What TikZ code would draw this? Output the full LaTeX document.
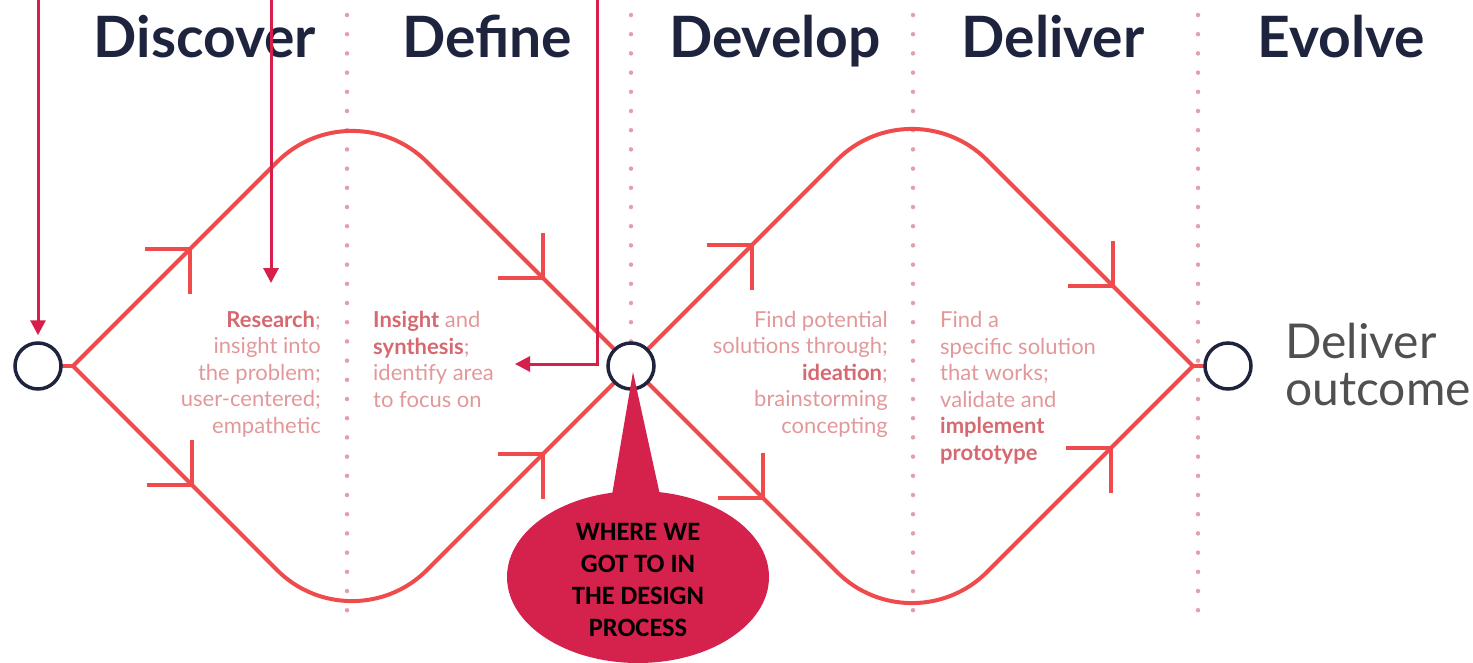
\documentclass[tikz,border=0pt]{standalone}
\usepackage{fontspec}
\setmainfont{Lato}
\newfontfamily\calloutfont{Carlito}
\usetikzlibrary{arrows.meta,calc,shapes.geometric}

\definecolor{routered}{RGB}{239,74,76}
\definecolor{navy}{RGB}{30,36,62}
\definecolor{pointerred}{RGB}{214,32,75}
\definecolor{dotpink}{RGB}{226,160,168}
\definecolor{bodytxt}{RGB}{226,152,154}
\definecolor{boldtxt}{RGB}{214,104,112}
\definecolor{outcometxt}{RGB}{80,80,80}
\definecolor{bubblered}{RGB}{212,34,76}

\newcommand\keyword[1]{\textbf{\color{boldtxt}#1}}
\newcommand\drawchevron[3]{\draw[chevron] ($(#1)+(#2)$) -- (#1) -- ($(#1)+(#3)$);}

\begin{document}
\begin{tikzpicture}[x=1pt,y=-1pt,
  phase/.style={font=\fontsize{57}{62}\selectfont\bfseries, text=navy, inner sep=0, anchor=base},
  dotline/.style={draw=dotpink, line width=4.5pt, line cap=round, dash pattern=on 0pt off 19.2pt},
  stage/.style={circle, draw=navy, line width=3.5pt, fill=white, minimum size=46pt, inner sep=0},
  route/.style={draw=routered, line width=4pt},
  chevron/.style={draw=routered, line width=4pt},
  note/.style={font=\fontsize{22}{26.5}\selectfont, text=bodytxt, inner sep=0},
  pointer/.style={draw=pointerred, line width=3pt, -{Triangle[width=15pt,length=15pt]}},
]
\useasboundingbox (0,0) rectangle (1473,662);

% phase separators
\foreach \xx/\nm in {347/sepA,631/sepB,913/sepC,1198/sepD}{
  \coordinate (\nm top) at (\xx,15);
  \coordinate (\nm bot) at (\xx,612);
  \draw[dotline] (\nm top) -- (\nm bot);
}

% phase titles
\node[phase] (discover) at (205,57) {Discover};
\node[phase] (define)   at (487,57) {Define};
\node[phase] (develop)  at (775,57) {Develop};
\node[phase] (deliver)  at (1053,57) {Deliver};
\node[phase] (evolve)   at (1341,57) {Evolve};

% stage circles
\coordinate (c1pos) at (38,366);
\coordinate (c2pos) at (631,366);
\coordinate (c3pos) at (1228,366);

% diamond corners
\coordinate (L1) at (73,366);
\coordinate (T1) at (352,87);
\coordinate (B1) at (352,645);
\coordinate (T2) at (912,85);
\coordinate (B2) at (912,647);
\coordinate (R2) at (1193,366);

% double diamond routes
\draw[route] (c1pos) -- (L1);
\draw[route, rounded corners=106pt] (L1) -- (T1) -- (c2pos);
\draw[route, rounded corners=106pt] (L1) -- (B1) -- (c2pos);
\draw[route, rounded corners=106pt] (c2pos) -- (T2) -- (R2);
\draw[route, rounded corners=106pt] (c2pos) -- (B2) -- (R2);
\draw[route] (R2) -- (c3pos);

% direction chevrons
\coordinate (k1) at (190,249);
\coordinate (k2) at (543,278);
\coordinate (k3) at (192,485);
\coordinate (k4) at (543,454);
\coordinate (k5) at (752,245);
\coordinate (k6) at (1113,286);
\coordinate (k7) at (763,498);
\coordinate (k8) at (1111,448);
\drawchevron{k1}{-45,0}{0,45}
\drawchevron{k2}{-45,0}{0,-45}
\drawchevron{k3}{-45,0}{0,-45}
\drawchevron{k4}{-45,0}{0,45}
\drawchevron{k5}{-45,0}{0,45}
\drawchevron{k6}{-45,0}{0,-45}
\drawchevron{k7}{-45,0}{0,-45}
\drawchevron{k8}{-45,0}{0,45}

\node[stage] (c1) at (c1pos) {};
\node[stage] (c2) at (c2pos) {};
\node[stage] (c3) at (c3pos) {};

% stage notes (anchored at the baseline of their last line)
\node[note, anchor=base east, align=right] (research) at (321,433)
  {\keyword{Research};\\insight into\\the problem;\\user-centered;\\empathetic};
\node[note, anchor=base west, align=left] (insight) at (373,407)
  {\keyword{Insight} and\\\keyword{synthesis};\\identify area\\to focus on};
\node[note, anchor=base east, align=right] (ideate) at (888,433)
  {Find potential\\solutions through;\\\keyword{ideation};\\brainstorming\\concepting};
\node[note, anchor=base west, align=left] (implement) at (940,460)
  {Find a\\specific solution\\that works;\\validate and\\\keyword{implement}\\\keyword{prototype}};

\node[anchor=base west, align=left, inner sep=0, text=outcometxt,
      font=\fontsize{48}{47}\selectfont] (outcome) at (1285,405) {Deliver\\outcome};

% speech bubble
\node[ellipse, fill=bubblered, minimum width=262pt, minimum height=172pt, inner sep=0] (bubble) at (638,577) {};
\coordinate (bubbletip) at (633,372);
\fill[bubblered] (bubbletip) -- ($(bubble.center)+(-26,-82)$) -- ($(bubble.center)+(22,-82)$) -- cycle;
\node[align=center, inner sep=0, font=\calloutfont\bfseries\fontsize{26.5}{32}\selectfont] (bubbletext)
  at ($(bubble.center)+(0,3)$) {WHERE WE\\GOT TO IN\\THE DESIGN\\PROCESS};

% pointers from above
\coordinate (p1s) at (38,-2);
\coordinate (p1e) at ($(c1.north)+(0,-6)$);
\coordinate (p2s) at (271,-2);
\coordinate (p2e) at (271,283);
\coordinate (p3s) at (597,-2);
\coordinate (p3e) at (515,364);
\draw[pointer] (p1s) -- (p1e);
\draw[pointer] (p2s) -- (p2e);
\draw[pointer] (p3s) |- (p3e);
\end{tikzpicture}
\end{document}
